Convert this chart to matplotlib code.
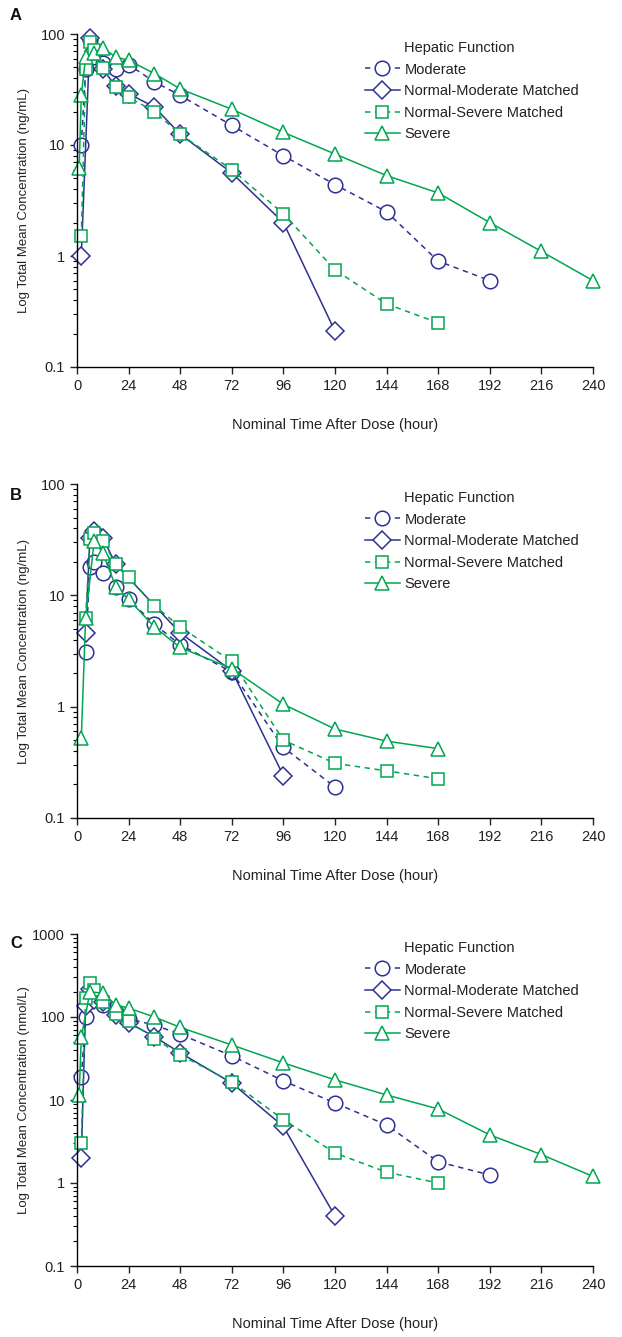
import matplotlib
matplotlib.use("Agg")
import matplotlib.pyplot as plt
from matplotlib.lines import Line2D
from matplotlib.ticker import FixedLocator, FuncFormatter, LogLocator, NullFormatter

plt.rcParams['font.family'] = ['Liberation Sans', 'DejaVu Sans']

NAVY = '#2e3192'
GREEN = '#00a651'

series_names = ["Moderate", "Normal-Moderate Matched", "Normal-Severe Matched", "Severe"]

# ---- Panel A (ng/mL) ----
mod_A_t = [2, 4, 6, 8, 12, 18, 24, 36, 48, 72, 96, 120, 144, 168, 192]
mod_A = [10, 48, 88, 62, 55, 48, 53, 37, 28, 15, 8.0, 4.4, 2.5, 0.9, 0.6]
nm_A_t = [2, 6, 8, 12, 18, 24, 36, 48, 72, 96, 120]
nm_A = [1.0, 92, 70, 48, 34, 29, 22, 12.5, 5.6, 2.0, 0.21]
ns_A_t = [2, 4, 6, 8, 12, 18, 24, 36, 48, 72, 96, 120, 144, 168]
ns_A = [1.5, 48, 85, 72, 49, 33, 27, 20, 12.5, 6.0, 2.4, 0.75, 0.37, 0.25]
sev_A_t = [1, 2, 4, 8, 12, 18, 24, 36, 48, 72, 96, 120, 144, 168, 192, 216, 240]
sev_A = [6.2, 28, 62, 68, 75, 62, 58, 44, 32, 21, 13, 8.3, 5.3, 3.7, 2.0, 1.1, 0.6]

# ---- Panel B (ng/mL) ----
mod_B_t = [4, 6, 8, 12, 18, 24, 36, 48, 72, 96, 120]
mod_B = [3.1, 18, 20, 16, 11.8, 9.2, 5.5, 3.6, 2.05, 0.43, 0.19]
nm_B_t = [4, 6, 8, 12, 18, 48, 72, 96]
nm_B = [4.6, 33, 38, 33, 19, 4.6, 2.1, 0.24]
ns_B_t = [4, 6, 8, 12, 18, 24, 36, 48, 72, 96, 120, 144, 168]
ns_B = [6.3, 32, 36, 31, 19, 14.5, 8.1, 5.2, 2.55, 0.5, 0.31, 0.265, 0.225]
sev_B_t = [2, 4, 8, 12, 18, 24, 36, 48, 72, 96, 120, 144, 168]
sev_B = [0.52, 6.2, 31, 24, 12, 9.2, 5.2, 3.4, 2.2, 1.05, 0.63, 0.49, 0.42]

# ---- Panel C (nmol/L) ----
mod_C_t = [2, 4, 6, 8, 12, 18, 24, 36, 48, 72, 96, 120, 144, 168, 192]
mod_C = [19, 100, 200, 170, 140, 115, 95, 80, 62, 34, 17, 9.2, 5.0, 1.8, 1.25]
nm_C_t = [2, 4, 6, 8, 12, 18, 24, 36, 48, 72, 96, 120]
nm_C = [2.0, 135, 220, 160, 150, 105, 85, 58, 37, 16, 4.8, 0.4]
ns_C_t = [2, 4, 6, 8, 12, 18, 24, 36, 48, 72, 96, 120, 144, 168]
ns_C = [3.0, 170, 255, 210, 150, 110, 90, 55, 35, 16.5, 5.8, 2.3, 1.35, 1.0]
sev_C_t = [1, 2, 6, 12, 18, 24, 36, 48, 72, 96, 120, 144, 168, 192, 216, 240]
sev_C = [11.5, 57, 200, 195, 140, 128, 100, 75, 46, 28, 17.5, 11.5, 7.8, 3.8, 2.2, 1.2]

x_ticks = [0, 24, 48, 72, 96, 120, 144, 168, 192, 216, 240]
ylabels = ["Log Total Mean Concentration (ng/mL)",
           "Log Total Mean Concentration (ng/mL)",
           "Log Total Mean Concentration (nmol/L)"]
panel_letters = ["A", "B", "C"]
ylims = [(0.1, 100), (0.1, 100), (0.1, 1000)]

styles = [
    dict(color=NAVY, ls=(0, (3.5, 3)), marker='o', ms=10.5),
    dict(color=NAVY, ls='-', marker='D', ms=9.5),
    dict(color=GREEN, ls=(0, (3.5, 3)), marker='s', ms=9.0),
    dict(color=GREEN, ls='-', marker='^', ms=10.5),
]

panels = [
    [(mod_A_t, mod_A), (nm_A_t, nm_A), (ns_A_t, ns_A), (sev_A_t, sev_A)],
    [(mod_B_t, mod_B), (nm_B_t, nm_B), (ns_B_t, ns_B), (sev_B_t, sev_B)],
    [(mod_C_t, mod_C), (nm_C_t, nm_C), (ns_C_t, ns_C), (sev_C_t, sev_C)],
]

W, H = 622, 1337
fig = plt.figure(figsize=(W / 100, H / 100), dpi=100)

# axes pixel boxes: (left, top, right, bottom)
boxes = [(77, 34, 593, 367), (77, 484, 593, 818), (77, 934, 593, 1266)]
letter_y = [16, 495, 943]

for i, (box, data) in enumerate(zip(boxes, panels)):
    l, t, r, b = box
    ax = fig.add_axes([l / W, 1 - b / H, (r - l) / W, (b - t) / H])
    for (xs, ys), st, name in zip(data, styles, series_names):
        ax.plot(xs, ys, color=st['color'], ls=st['ls'], lw=1.1,
                marker=st['marker'], ms=st['ms'], mfc='white',
                mec=st['color'], mew=1.1, clip_on=False, label=name)
    ax.set_yscale('log')
    ax.set_xlim(0, 240)
    ax.set_ylim(*ylims[i])
    ax.spines['top'].set_visible(False)
    ax.spines['right'].set_visible(False)
    ax.spines['left'].set_linewidth(1.0)
    ax.spines['bottom'].set_linewidth(1.0)
    ax.xaxis.set_major_locator(FixedLocator(x_ticks))
    ax.yaxis.set_major_locator(LogLocator(base=10, numticks=10))
    ax.yaxis.set_minor_locator(LogLocator(base=10, subs=range(2, 10), numticks=20))
    ax.yaxis.set_minor_formatter(NullFormatter())
    ax.yaxis.set_major_formatter(FuncFormatter(lambda v, p: ('%g' % v)))
    ax.tick_params(axis='both', which='major', direction='out', length=5,
                   width=1.0, labelsize=10.5, colors='#222222')
    ax.tick_params(axis='y', which='minor', direction='out', length=3, width=0.8)
    ax.set_xlabel("Nominal Time After Dose (hour)", fontsize=10.5, labelpad=18,
                  color='#222222')
    ax.set_ylabel(ylabels[i], fontsize=9.5, color='#222222')
    ax.yaxis.set_label_coords((30 - l) / (r - l), 0.5)

    handles = [Line2D([], [], ls='none', marker=None)]
    labels = ["Hepatic Function"]
    for st, name in zip(styles, series_names):
        handles.append(Line2D([], [], color=st['color'], ls=st['ls'], lw=1.1,
                              marker=st['marker'], ms=st['ms'], mfc='white',
                              mec=st['color'], mew=1.1))
        labels.append(name)
    ax.legend(handles, labels, loc='upper left',
              bbox_to_anchor=(0.558, 1 - 7 / (b - t)),
              frameon=False, fontsize=10.5, handlelength=2.4, handletextpad=0.3,
              labelspacing=0.52, borderpad=0, borderaxespad=0, numpoints=1,
              labelcolor='#222222')

    fig.text(10 / W, 1 - letter_y[i] / H, panel_letters[i], fontsize=12,
             fontweight='bold', ha='left', va='center', color='#111111')

fig.savefig("out.png", dpi=100)
